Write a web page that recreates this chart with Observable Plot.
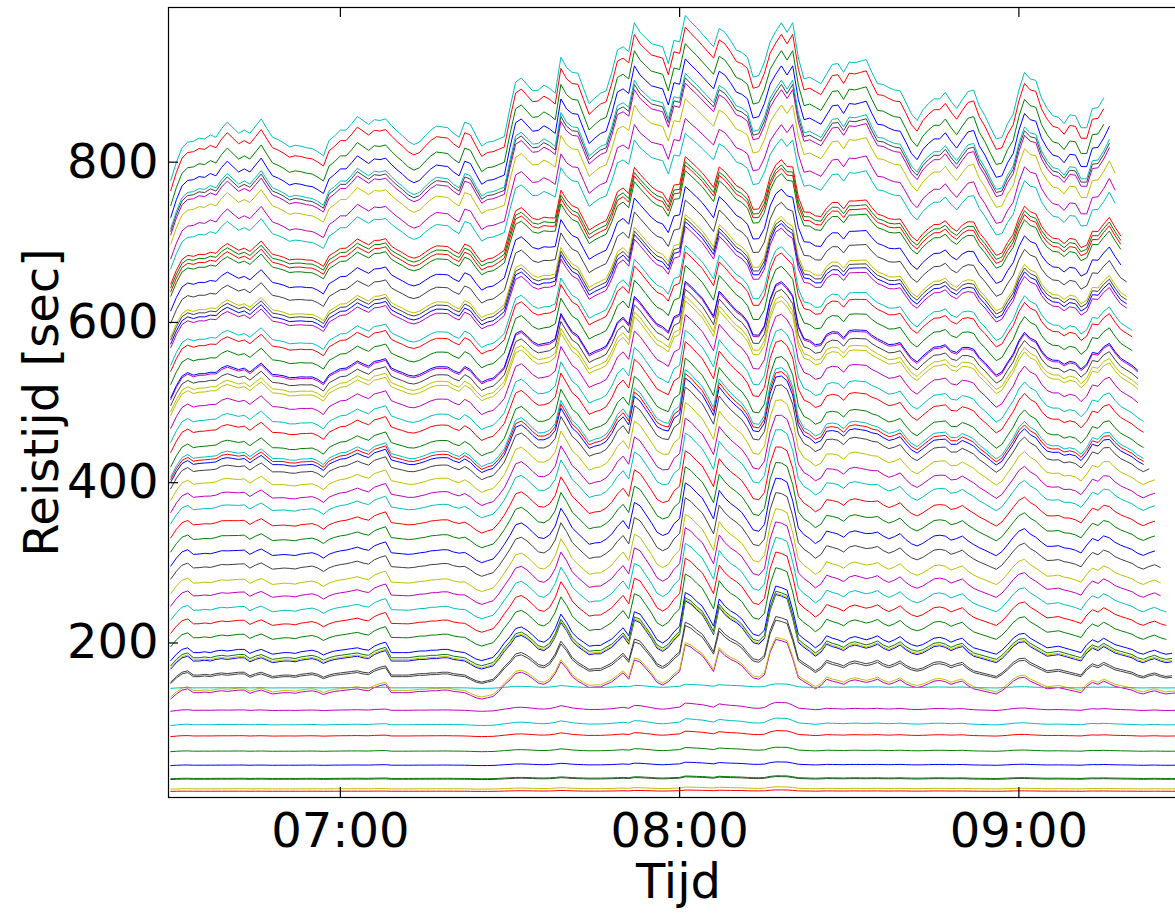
<!DOCTYPE html>
<html><head><meta charset="utf-8">
<script src="https://cdn.jsdelivr.net/npm/d3@7"></script>
<script src="https://cdn.jsdelivr.net/npm/@observablehq/plot@0.6"></script>
<style>
html,body{margin:0;padding:0;background:#fff;overflow:hidden;}
#wrap{width:1175px;height:919px;overflow:hidden;}
#wrap svg{max-width:none !important;}
</style></head><body><div id="wrap"></div>
<script>
// Travel time of the top route (sec), one value per minute from 06:30
const topProfile = [
 777, 800, 818, 825, 826, 830, 829, 834, 831, 842,
 850, 843, 836, 840, 836, 845, 854, 842, 831, 828,
 824, 819, 821, 820, 818, 817, 813, 808, 827, 833,
 840, 840, 848, 857, 852, 847, 853, 852, 854, 846,
 839, 833, 826, 822, 825, 833, 840, 845, 844, 843,
 836, 831, 850, 847, 833, 820, 825, 826, 829, 832,
 868, 900, 905, 897, 889, 890, 896, 892, 886, 931,
 918, 912, 911, 892, 873, 880, 886, 889, 912, 940,
 944, 938, 974, 962, 955, 948, 946, 944, 923, 952,
 950, 983, 975, 968, 960, 952, 944, 967, 962, 952,
 940, 937, 931, 906, 908, 925, 950, 963, 974, 962,
 974, 930, 904, 906, 902, 898, 910, 922, 923, 912,
 925, 924, 926, 928, 912, 898, 897, 893, 890, 889,
 875, 860, 852, 865, 873, 879, 879, 887, 876, 867,
 878, 888, 890, 870, 858, 843, 829, 831, 848, 860,
 890, 912, 904, 902, 880, 867, 858, 856, 848, 859,
 858, 843, 843, 867, 868, 880, 895, 878, 862, 855,
 848, 840, 832, 835, 838, 834, 830, 832, 830, 828, 830, 832
];
const topRef = 830;
// Travel time of a short route (sec, the blue ~180 s line), one value per minute from 06:30
const lowProfile = [
 172, 180, 186, 188, 182, 182, 183, 182, 184, 185,
 184, 185, 186, 186, 181, 184, 186, 183, 180, 181,
 182, 182, 181, 183, 184, 185, 183, 179, 182, 184,
 185, 186, 187, 188, 186, 185, 190, 193, 195, 182,
 182, 182, 182, 183, 184, 184, 185, 185, 186, 186,
 184, 183, 182, 178, 174, 172, 174, 176, 184, 194,
 202, 212, 214, 210, 204, 197, 195, 200, 212, 230,
 220, 207, 200, 195, 190, 191, 191, 195, 199, 206,
 213, 203, 233, 230, 220, 210, 198, 194, 199, 208,
 215, 257, 253, 246, 240, 228, 215, 249, 240, 234,
 230, 224, 214, 205, 203, 210, 245, 265, 263, 260,
 235, 205, 199, 194, 188, 193, 203, 200, 198, 195,
 200, 202, 200, 198, 200, 203, 198, 195, 198, 202,
 196, 192, 190, 192, 196, 200, 201, 199, 195, 198,
 200, 193, 188, 186, 184, 182, 180, 185, 192, 200,
 205, 206, 200, 196, 192, 188, 189, 190, 188, 186,
 184, 182, 192, 198, 195, 200, 196, 192, 190, 188,
 186, 182, 180, 183, 185, 182, 180, 181, 182, 183, 181, 182
];
const lowRef = 182;

// One entry per route (bottom to top)
const lineBase = [15, 18, 30, 31, 47.5, 65, 84, 98, 116, 138, 140.6, 144, 158, 160, 177.5, 179, 181.6, 188,
 206.6, 224, 241, 259, 275, 294, 311, 329.6, 348, 367, 382.5, 399, 415, 424, 428, 431.6, 445, 464, 477.5,
 496, 513, 518, 526, 534, 536, 554, 571, 579, 602, 607, 612, 616, 634, 650, 669, 675, 680, 685,
 710, 724.5, 744.5, 758, 763, 767, 782, 798, 817, 830];
const lineColor = ["r","y","k","g","b","g","r","c","m","m","y","c","k","k","b","y","g","b",
 "g","r","c","m","y","k","b","g","r","c","m","y","k","b","r","c","g","r","c",
 "m","y","y","k","m","b","g","r","c","m","b","k","y","k","b","g","r","g","r",
 "c","m","y","m","k","c","b","g","r","c"];
const lineTopWeight = [0,0,0,0,0,0,0,0,0,0,0,0,0,0,0,0,0,0,
 .02,.03,.04,.05,.06,.08,.1,.12,.14,.17,.2,.23,.26,.28,.29,.3,.32,.35,.37,
 .4,.42,.43,.44,.45,.45,.48,.5,.51,.54,.55,.55,.56,.58,.6,.62,.63,.63,.64,
 .8,.85,.88,.92,.93,.94,.96,.98,.99,1];
const lineLowWeight = [.02,.03,.04,.04,.05,.06,.08,.1,.12,.8,.8,.06,.85,.88,1,1,1,1,
 1.02,1.03,1.03,1.03,1.02,1,.98,.96,.94,.92,.9,.88,.86,.85,.85,.85,.82,.78,.75,
 .7,.66,.65,.64,.62,.62,.58,.54,.52,.47,.46,.45,.44,.4,.37,.34,.33,.32,.32,
 .05,0,0,0,0,0,0,0,0,0];
const lineLastMinute = [181,181,181,181,181,181,181,181,181,179,179,179,177,177,177,177,177,177,
 176,176,176,175,175,175,174,174,174,174,174,174,173,172,172,172,172,172,172,
 171,171,171,171,171,171,170,170,170,169,169,169,169,169,168,168,168,168,168,
 167,167,167,166,166,166,166,165,165,165];

const yTicks = [200, 400, 600, 800];
const xTickLabels = ["07:00", "08:00", "09:00"];
const startLabel = "06:30";
const domainLabels = ["06:29:36", "09:30:00"];

const matlabColors = {b:"#0000ff", g:"#008000", r:"#ff0000", c:"#00bfbf", m:"#bf00bf", y:"#bfbf00", k:"#404040"};

const parseHM = d3.utcParse("%H:%M");
const parseHMS = d3.utcParse("%H:%M:%S");
const start = parseHM(startLabel).getTime();
const xTicks = xTickLabels.map(parseHM);

const rows = [];
lineBase.forEach((base, i) => {
  for (let m = 0; m <= lineLastMinute[i]; m++) {
    rows.push({
      line: i,
      color: matlabColors[lineColor[i]],
      time: new Date(start + m * 60000),
      value: base + lineTopWeight[i] * (topProfile[m] - topRef) + lineLowWeight[i] * (lowProfile[m] - lowRef)
    });
  }
});

const W = 1200, H = 919, mL = 168, mR = 12, mT = 7, mB = 122;
const frameW = W - mL - mR, frameH = H - mT - mB;

const chart = Plot.plot({
  width: W, height: H,
  marginLeft: mL, marginRight: mR, marginTop: mT, marginBottom: mB,
  style: {fontFamily: "DejaVu Sans", fontSize: "48px", background: "white", color: "black", maxWidth: "none"},
  x: {type: "utc", domain: domainLabels.map(parseHMS), label: null},
  y: {domain: [7.2, 993], label: null},
  color: {type: "identity"},
  marks: [
    Plot.lineY(rows, {x: "time", y: "value", z: "line", stroke: "color", strokeWidth: 1, clip: true}),
    Plot.frame({stroke: "black", strokeWidth: 1.2}),
    Plot.tickX(xTicks, {x: d => d, insetTop: frameH - 10, stroke: "black", strokeWidth: 1.2}),
    Plot.tickX(xTicks, {x: d => d, insetBottom: frameH - 10, stroke: "black", strokeWidth: 1.2}),
    Plot.tickY(yTicks, {y: d => d, insetRight: frameW - 10, stroke: "black", strokeWidth: 1.2}),
    Plot.axisX(xTicks, {tickSize: 0, tickPadding: 15, tickFormat: d3.utcFormat("%H:%M"), fontSize: 48, label: null}),
    Plot.axisY(yTicks, {tickSize: 0, tickPadding: 10, fontSize: 48, label: null}),
    Plot.text(["Tijd"], {frameAnchor: "bottom", dy: 85, textAnchor: "middle", lineAnchor: "middle", fontSize: 48, fill: "black"}),
    Plot.text(["Reistijd [sec]"], {frameAnchor: "left", dx: -126, rotate: -90, textAnchor: "middle", lineAnchor: "middle", fontSize: 48, fill: "black"})
  ]
});
chart.style.maxWidth = "none";
document.getElementById("wrap").appendChild(chart);
</script>
</body></html>
